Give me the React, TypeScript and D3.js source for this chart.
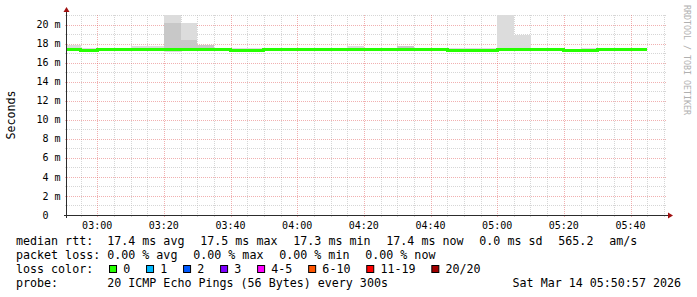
import React from "react";
import * as d3 from "d3";

// ---------- data ----------
const stepStarts = [
  "02:50", "02:55", "03:00", "03:05", "03:10", "03:15", "03:20", "03:25", "03:30", "03:35",
  "03:40", "03:45", "03:50", "03:55", "04:00", "04:05", "04:10", "04:15", "04:20", "04:25",
  "04:30", "04:35", "04:40", "04:45", "04:50", "04:55", "05:00", "05:05", "05:10", "05:15",
  "05:20", "05:25", "05:30", "05:35", "05:40",
];
const medianMs = [
  17.4, 17.3, 17.35, 17.4, 17.4, 17.4, 17.4, 17.4, 17.4, 17.4,
  17.3, 17.3, 17.4, 17.4, 17.4, 17.4, 17.4, 17.4, 17.4, 17.4,
  17.4, 17.4, 17.4, 17.3, 17.3, 17.3, 17.4, 17.4, 17.4, 17.4,
  17.3, 17.3, 17.4, 17.4, 17.4,
];
const minMs = [
  17.3, 17.25, 17.3, 17.3, 17.3, 17.3, 17.1, 17.3, 17.3, 17.3,
  17.25, 17.25, 17.3, 17.3, 17.3, 17.3, 17.3, 17.3, 17.3, 17.3,
  17.3, 17.3, 17.3, 17.25, 17.25, 17.25, 17.3, 17.3, 17.3, 17.3,
  17.25, 17.25, 17.3, 17.3, 17.3,
];
const maxMs = [
  17.85, 17.5, 17.55, 17.5, 17.75, 17.75, 23.0, 20.2, 17.85, 17.5,
  17.5, 17.5, 17.5, 17.5, 17.5, 17.5, 17.5, 17.7, 17.5, 17.5,
  17.75, 17.5, 17.5, 17.5, 17.5, 17.5, 23.0, 18.95, 17.5, 17.5,
  17.45, 17.5, 17.5, 17.5, 17.5,
];
// darker inner band (bulk of pings)
const innerLoMs = [
  17.4, 17.3, 17.35, 17.4, 17.4, 17.4, 17.3, 17.3, 17.4, 17.4,
  17.3, 17.3, 17.4, 17.4, 17.4, 17.4, 17.4, 17.4, 17.4, 17.4,
  17.45, 17.4, 17.4, 17.3, 17.3, 17.3, 17.4, 17.4, 17.4, 17.4,
  17.3, 17.3, 17.4, 17.4, 17.4,
];
const innerHiMs = [
  17.4, 17.3, 17.35, 17.4, 17.4, 17.4, 20.2, 18.35, 17.85, 17.4,
  17.3, 17.3, 17.4, 17.4, 17.4, 17.4, 17.4, 17.4, 17.4, 17.4,
  17.75, 17.4, 17.4, 17.3, 17.3, 17.3, 17.4, 17.4, 17.4, 17.4,
  17.3, 17.3, 17.4, 17.4, 17.4,
];
const dataEnd = "05:45";

const yTicks = [0, 2, 4, 6, 8, 10, 12, 14, 16, 18, 20];
const yTickLabels = [" 0  ", " 2 m", " 4 m", " 6 m", " 8 m", "10 m", "12 m", "14 m", "16 m", "18 m", "20 m"];

const legendRtt = ["median rtt:  17.4 ms avg", "17.5 ms max", "17.3 ms min", "17.4 ms now", "0.0 ms sd", "565.2", "am/s"];
const legendLoss = ["packet loss: 0.00 % avg", "0.00 % max", "0.00 % min", "0.00 % now"];
const lossLabels = ["0", "1", "2", "3", "4-5", "6-10", "11-19", "20/20"];
const lossColors = ["#26ff00", "#00b8ff", "#0059ff", "#7e00ff", "#ff00ff", "#ff5500", "#ff0000", "#a10000"];
const probeText = "probe:       20 ICMP Echo Pings (56 Bytes) every 300s";
const dateText = "Sat Mar 14 05:50:57 2026";

// ---------- layout ----------
const W = 697, H = 297;
const X0 = 67, X1 = 667, YT = 15, YB = 215;
const FONT = "'DejaVu Sans Mono', monospace";
const LEG_FS = 11.66;
const CHAR_W = 7.02;
const GAP = 15.8;
const BOX_ADV = 14.2;

const t = (hm: string, s = 0) => {
  const [h, m] = hm.split(":").map(Number);
  return new Date(Date.UTC(2026, 2, 14, h, m, s));
};
const tStart = t("02:50", 57);
const tEnd = t("05:50", 57);

const x = d3.scaleUtc().domain([tStart, tEnd]).range([X0, X1]);
const y = d3.scaleLinear().domain([0, 21]).range([YB, YT]);

type Pt = { t: Date; v: number };
const series = (vals: number[]): Pt[] => {
  const pts = stepStarts.map((s, i) => ({ t: t(s) < tStart ? tStart : t(s), v: vals[i] }));
  pts.push({ t: t(dataEnd), v: vals[vals.length - 1] });
  return pts;
};

const bandArea = (lo: number[], hi: number[]) => {
  const L = series(lo), Hh = series(hi);
  const a = d3
    .area<number>()
    .curve(d3.curveStepAfter)
    .x((i) => x(L[i].t))
    .y0((i) => y(L[i].v))
    .y1((i) => y(Math.min(21.5, Hh[i].v)));
  return a(d3.range(L.length)) || "";
};

const medLine = (() => {
  const M = series(medianMs);
  return (
    d3
      .line<Pt>()
      .curve(d3.curveStepAfter)
      .x((d) => x(d.t))
      .y((d) => y(d.v))(M) || ""
  );
})();

const minorX = d3.utcMinute.every(5)!.range(tStart, tEnd);
const majorX = d3.utcMinute.every(20)!.range(tStart, tEnd);
const minorY = d3.range(1, 22);

const GRID = "rgba(186,186,186,0.6)";
const MGRID = "rgba(224,80,80,0.45)";
const px = (v: number) => Math.round(v) + 0.5;

export default function App() {
  const isMajorX = (d: Date) => d.getUTCMinutes() % 20 === 0;

  const rttX: number[] = [];
  let cx = 16;
  legendRtt.forEach((s) => {
    rttX.push(cx);
    cx += s.length * CHAR_W + GAP;
  });
  const lossX: number[] = [];
  cx = 16;
  legendLoss.forEach((s) => {
    lossX.push(cx);
    cx += s.length * CHAR_W + GAP;
  });
  const colX: number[] = [];
  cx = 16 + "loss color:".length * CHAR_W + GAP;
  lossLabels.forEach((s) => {
    colX.push(cx);
    cx += BOX_ADV + s.length * CHAR_W + GAP;
  });

  return (
    <svg
      width={W}
      height={H}
      viewBox={`0 0 ${W} ${H}`}
      style={{ position: "absolute", left: 0, top: 0, background: "#fff" }}
      fontFamily={FONT}
    >
      <defs>
        <clipPath id="plot">
          <rect x={X0} y={YT} width={X1 - X0} height={YB - YT} />
        </clipPath>
      </defs>
      <rect x={0} y={0} width={W} height={H} fill="#fff" />

      {/* minor grid */}
      {minorX.filter((d) => !isMajorX(d)).map((d, i) => (
        <g key={"mx" + i}>
          <line x1={px(x(d))} x2={px(x(d))} y1={YT} y2={YB} stroke={GRID} strokeDasharray="1,1" />
          <line x1={px(x(d))} x2={px(x(d))} y1={YB} y2={YB + 2} stroke={GRID} />
        </g>
      ))}
      {minorY.filter((v) => v % 2 !== 0).map((v) => (
        <g key={"my" + v}>
          <line x1={X0} x2={X1} y1={px(y(v))} y2={px(y(v))} stroke={GRID} strokeDasharray="1,1" />
          <line x1={X0 - 2} x2={X0} y1={px(y(v))} y2={px(y(v))} stroke={GRID} />
        </g>
      ))}
      {/* major grid */}
      {majorX.map((d, i) => (
        <g key={"Mx" + i}>
          <line x1={px(x(d))} x2={px(x(d))} y1={YT} y2={YB} stroke={MGRID} strokeDasharray="1,1" />
          <line x1={px(x(d))} x2={px(x(d))} y1={YB} y2={YB + 2} stroke={MGRID} />
        </g>
      ))}
      {yTicks.filter((v) => v > 0).map((v) => (
        <g key={"My" + v}>
          <line x1={X0} x2={X1} y1={px(y(v))} y2={px(y(v))} stroke={MGRID} strokeDasharray="1,1" />
          <line x1={X0 - 2} x2={X0} y1={px(y(v))} y2={px(y(v))} stroke={MGRID} />
        </g>
      ))}

      {/* smoke */}
      <g clipPath="url(#plot)" shapeRendering="crispEdges">
        <path d={bandArea(minMs, maxMs)} fill="#dcdcdc" />
        <path d={bandArea(innerLoMs, innerHiMs)} fill="#c8c8c8" />
        <path d={medLine} fill="none" stroke={lossColors[0]} strokeWidth={3} />
      </g>

      {/* axes */}
      <line x1={X0 - 0.5} x2={X0 - 0.5} y1={YB + 3} y2={11} stroke="#2c2c2c" />
      <path d={`M${X0 - 3.5},12 L${X0 + 2.5},12 L${X0 - 0.5},7 Z`} fill="#a01010" />
      <line x1={X0 - 3} x2={670} y1={YB + 0.5} y2={YB + 0.5} stroke="#2c2c2c" />
      <path d={`M668,${YB - 2.5} L668,${YB + 3.5} L673,${YB + 0.5} Z`} fill="#a01010" />

      {/* y tick labels */}
      {yTicks.map((v, i) => (
        <text
          key={"yl" + v}
          x={60.5 - 4 * 6.02}
          y={y(v) + 3.6}
          fontSize={10}
          fill="#000"
          xmlSpace="preserve"
          style={{ whiteSpace: "pre" }}
        >
          {yTickLabels[i]}
        </text>
      ))}
      {/* x tick labels */}
      {majorX.map((d, i) => (
        <text key={"xl" + i} x={x(d)} y={228.5} fontSize={10} textAnchor="middle" fill="#000">
          {d3.utcFormat("%H:%M")(d)}
        </text>
      ))}

      {/* axis title */}
      <text
        transform={`translate(14.5,${(YT + YB) / 2}) rotate(-90)`}
        textAnchor="middle"
        fontSize={LEG_FS}
        fill="#000"
      >
        Seconds
      </text>

      {/* watermark */}
      <text transform="translate(684,5) rotate(90)" fontSize={8.3} fill="#b0b0b0" xmlSpace="preserve">
        RRDTOOL / TOBI OETIKER
      </text>

      {/* legend */}
      <g fontSize={LEG_FS} fill="#000">
        {legendRtt.map((s, i) => (
          <text key={"r" + i} x={rttX[i]} y={244.5} xmlSpace="preserve" style={{ whiteSpace: "pre" }}>{s}</text>
        ))}
        {legendLoss.map((s, i) => (
          <text key={"l" + i} x={lossX[i]} y={258.5} xmlSpace="preserve" style={{ whiteSpace: "pre" }}>{s}</text>
        ))}
        <text x={16} y={272.5}>loss color:</text>
        {lossLabels.map((s, i) => (
          <g key={"c" + i}>
            <rect x={colX[i] + 0.5} y={265.5} width={7} height={7} fill={lossColors[i]} stroke="#000" strokeWidth={1} />
            <text x={colX[i] + BOX_ADV} y={272.5}>{s}</text>
          </g>
        ))}
        <text x={16} y={286.5} xmlSpace="preserve" style={{ whiteSpace: "pre" }}>{probeText}</text>
        <text x={681} y={286.5} textAnchor="end">{dateText}</text>
      </g>
    </svg>
  );
}
